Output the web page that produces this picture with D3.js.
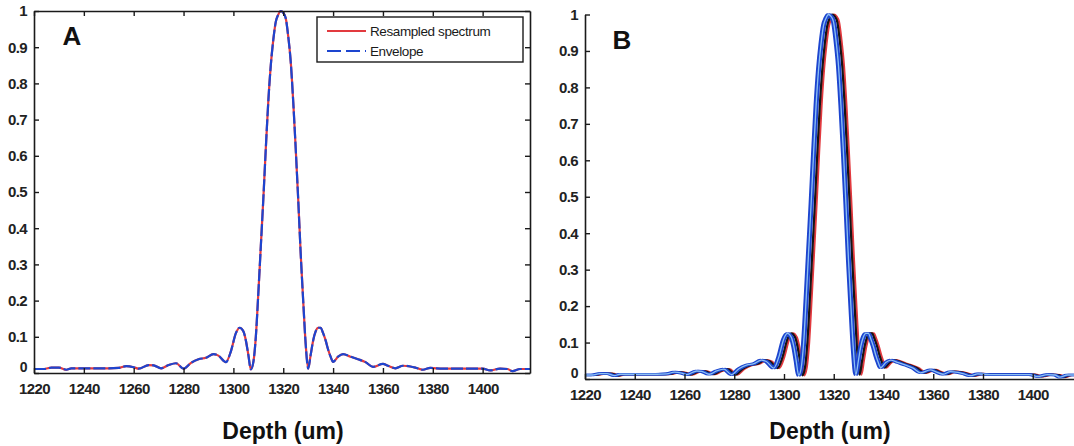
<!DOCTYPE html>
<html>
<head>
<meta charset="utf-8">
<script src="https://cdn.jsdelivr.net/npm/d3@7"></script>
<style>
  body { margin: 0; background: #fff; }
  text { font-family: "Liberation Sans", Arial, sans-serif; }
</style>
</head>
<body>
<svg id="fig" width="1074" height="446"></svg>
<script>
// Depth-resolved amplitude of the resampled spectrum (um, normalised)
const depth = [1220, 1224, 1227, 1230, 1233, 1235, 1238, 1242, 1246, 1250, 1254, 1257, 1260, 1262,
  1266, 1268, 1271, 1274, 1277, 1280, 1283, 1286, 1289, 1292, 1294, 1297, 1299, 1301, 1302.5,
  1304, 1305, 1306, 1307, 1308, 1309, 1310, 1311, 1312, 1313, 1314, 1315, 1316, 1317, 1318,
  1319, 1320, 1321, 1322, 1323, 1324, 1325, 1326, 1327, 1328, 1329, 1330, 1331, 1332, 1333,
  1334, 1335, 1336, 1337, 1338, 1339, 1340, 1342, 1344, 1347, 1350, 1353, 1356, 1360, 1362,
  1365, 1368, 1371, 1373, 1376, 1379, 1384, 1390, 1396, 1400, 1403, 1407, 1410, 1412, 1415, 1419];
const amplitude = [0.011, 0.011, 0.015, 0.015, 0.009, 0.013, 0.013, 0.013, 0.013, 0.013, 0.014, 0.019, 0.016, 0.012,
  0.022, 0.021, 0.013, 0.022, 0.027, 0.012, 0.028, 0.038, 0.042, 0.052, 0.048, 0.03, 0.06, 0.11, 0.125,
  0.115, 0.09, 0.05, 0.01, 0.03, 0.1, 0.22, 0.35, 0.48, 0.62, 0.75, 0.85, 0.92, 0.97, 0.99,
  1.0, 0.995, 0.98, 0.93, 0.86, 0.75, 0.62, 0.48, 0.33, 0.2, 0.08, 0.012, 0.05, 0.09, 0.115,
  0.125, 0.125, 0.11, 0.09, 0.065, 0.045, 0.031, 0.045, 0.052, 0.045, 0.038, 0.03, 0.017, 0.025, 0.02,
  0.013, 0.02, 0.018, 0.015, 0.009, 0.014, 0.012, 0.012, 0.012, 0.012, 0.007, 0.012, 0.011, 0.005, 0.011, 0.011];

// Depth offsets (um), colours and stroke widths of the repeated A-scans in panel B
const offsetsB = [1.1, 0.4, -1.6, -0.6, -1.1];
const coloursB = ["#e23a3f", "#151515", "#1d45cf", "#1d45cf", "#8cc0f4"];
const widthsB = [2.2, 2.2, 2.6, 2.6, 1.3];

const xTicks = [1220, 1240, 1260, 1280, 1300, 1320, 1340, 1360, 1380, 1400];
const yTicks = [0, 0.1, 0.2, 0.3, 0.4, 0.5, 0.6, 0.7, 0.8, 0.9, 1];
const legendLabels = ["Resampled spectrum", "Envelope"];
const panelLabels = ["A", "B"];
const axisTitle = "Depth (um)";

const RED = "#e23a3f", BLUE = "#1d45cf", INK = "#1a1a1a";
const svg = d3.select("#fig");

function panel(cfg) {
  const x = d3.scaleLinear().domain([1220, 1419]).range([cfg.left, cfg.right]);
  const y = d3.scaleLinear().domain([0, 1]).range([cfg.bottom, cfg.top]);
  const g = svg.append("g");

  const clipId = "clip" + cfg.name;
  g.append("clipPath").attr("id", clipId).append("rect")
    .attr("x", cfg.left).attr("y", cfg.top - 4)
    .attr("width", cfg.right - cfg.left).attr("height", cfg.bottom - cfg.top + 4);

  const line = off => d3.line()
    .x((d, i) => x(depth[i] + off))
    .y(d => y(d))
    .curve(d3.curveMonotoneX);

  const plot = g.append("g").attr("clip-path", `url(#${clipId})`);
  cfg.draw(plot, line);

  // axes with inward ticks
  const tick = 5;
  const xAxis = d3.axisBottom(x).tickValues(xTicks).tickSizeInner(-tick).tickSizeOuter(0).tickPadding(10)
    .tickFormat(d3.format("d"));
  const yAxis = d3.axisLeft(y).tickValues(yTicks).tickSizeInner(-tick).tickSizeOuter(0).tickPadding(7)
    .tickFormat(d => d === 0 ? "0" : d === 1 ? "1" : d3.format(".1f")(d));

  const gx = g.append("g").attr("transform", `translate(0,${cfg.bottom})`).call(xAxis);
  const gy = g.append("g").attr("transform", `translate(${cfg.left},0)`).call(yAxis);
  [gx, gy].forEach(a => {
    a.select(".domain").attr("stroke", INK).attr("stroke-width", 1.6);
    a.selectAll(".tick line").attr("stroke", INK).attr("stroke-width", 1.4);
    a.selectAll(".tick text").attr("fill", "#222").attr("font-size", 15)
      .attr("font-weight", "bold").attr("letter-spacing", "-0.6px")
      .attr("font-family", "'Liberation Sans', Arial, sans-serif");
  });
  // the zero label sits just above the first depth label
  gy.selectAll(".tick text").filter(d => d === 0).attr("dy", "-0.12em").attr("font-size", 14);

  if (cfg.box) {
    const gt = g.append("g").attr("transform", `translate(0,${cfg.top})`)
      .call(d3.axisTop(x).tickValues(xTicks).tickSizeInner(-tick).tickSizeOuter(0).tickFormat(""));
    const gr = g.append("g").attr("transform", `translate(${cfg.right},0)`)
      .call(d3.axisRight(y).tickValues(yTicks).tickSizeInner(-tick).tickSizeOuter(0).tickFormat(""));
    [gt, gr].forEach(a => {
      a.select(".domain").attr("stroke", INK).attr("stroke-width", 1.6);
      a.selectAll(".tick line").attr("stroke", INK).attr("stroke-width", 1.4);
    });
  }

  g.append("text").attr("x", cfg.letterX).attr("y", cfg.top + 34)
    .attr("font-size", 26).attr("font-weight", "bold").attr("fill", "#111")
    .attr("text-anchor", "middle").text(cfg.name);

  g.append("text").attr("x", cfg.titleX).attr("y", 439)
    .attr("font-family", "'Open Sans', sans-serif")
    .attr("font-size", 23).attr("font-weight", "bold").attr("fill", "#111")
    .attr("text-anchor", "middle").text(axisTitle);

  return { x, y, g };
}

// Panel A: resampled spectrum with its envelope overlaid
const A = panel({
  name: panelLabels[0], left: 34, right: 530, top: 11, bottom: 373, box: true,
  letterX: 72, titleX: 283,
  draw: (plot, line) => {
    plot.append("path").attr("d", line(0)(amplitude))
      .attr("fill", "none").attr("stroke", RED).attr("stroke-width", 2.2);
    plot.append("path").attr("d", line(0)(amplitude))
      .attr("fill", "none").attr("stroke", BLUE).attr("stroke-width", 2.2)
      .attr("stroke-dasharray", "12,3");
  }
});

// legend
const lg = A.g.append("g");
lg.append("rect").attr("x", 317).attr("y", 17).attr("width", 206).attr("height", 45)
  .attr("fill", "#fff").attr("stroke", INK).attr("stroke-width", 1.4);
[RED, BLUE].forEach((c, i) => {
  const yy = 31 + i * 20;
  lg.append("line").attr("x1", 327).attr("x2", 366).attr("y1", yy).attr("y2", yy)
    .attr("stroke", c).attr("stroke-width", 1.8)
    .attr("stroke-dasharray", i === 1 ? "14,5" : null);
  lg.append("text").attr("x", 370).attr("y", yy + 5).attr("font-size", 13.5)
    .attr("fill", "#1a1a1a").attr("letter-spacing", "-0.4px").text(legendLabels[i]);
});

// Panel B: repeated scans, slightly offset in depth
panel({
  name: panelLabels[1], left: 585, right: 1080, top: 14.5, bottom: 379, box: false,
  letterX: 622, titleX: 830,
  draw: (plot, line) => {
    offsetsB.forEach((off, k) => {
      plot.append("path").attr("d", line(off)(amplitude))
        .attr("fill", "none").attr("stroke", coloursB[k])
        .attr("stroke-width", widthsB[k]);
    });
  }
});
</script>
</body>
</html>
